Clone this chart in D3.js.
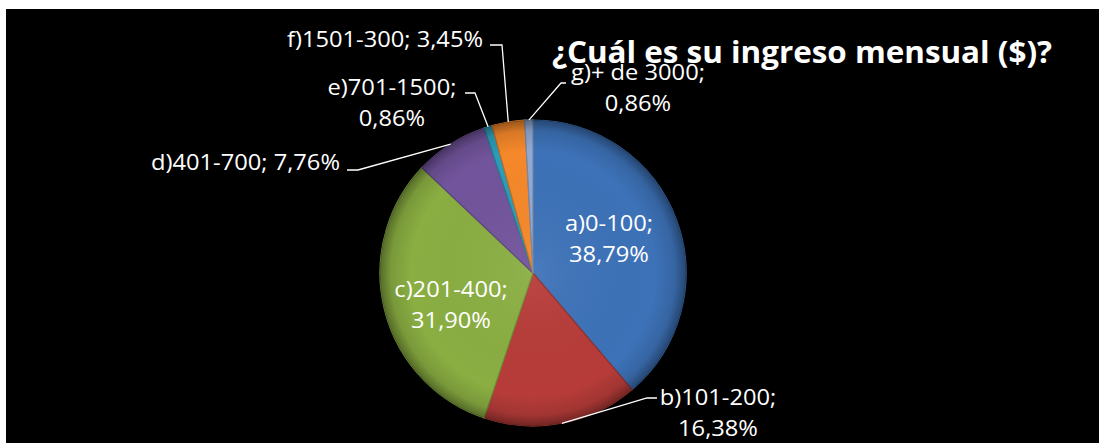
<!DOCTYPE html>
<html><head><meta charset="utf-8">
<script src="https://cdn.jsdelivr.net/npm/d3@7"></script>
<style>html,body{margin:0;padding:0;background:#fff;} svg{display:block}</style>
</head><body>
<svg id="c" width="1099" height="443"></svg>
<script>
// ---- data ----
const categories = ["a)0-100", "b)101-200", "c)201-400", "d)401-700", "e)701-1500", "f)1501-300", "g)+ de 3000"];
const values = [38.79, 16.38, 31.90, 7.76, 0.86, 3.45, 0.86];
const valueLabels = ["38,79%", "16,38%", "31,90%", "7,76%", "0,86%", "3,45%", "0,86%"];
const colors = ["#3d72b8", "#b73c39", "#8aae42", "#72549c", "#2c9db8", "#f5882a", "#91aad4"];
const title = "¿Cuál es su ingreso mensual ($)?";

// ---- layout (label placement, not data) ----
const labelLayout = [
  {lines: 2, x: 609, y: 231, anchor: "middle"},
  {lines: 2, x: 718, y: 405, anchor: "middle", elbow: [[647, 398], [657, 398]]},
  {lines: 2, x: 451, y: 297, anchor: "middle"},
  {lines: 1, x: 340, y: 170, anchor: "end", elbow: [[358, 170], [347, 170]]},
  {lines: 2, x: 392, y: 95, anchor: "middle", elbow: [[475, 93], [465, 93]]},
  {lines: 1, x: 483, y: 47, anchor: "end", elbow: [[502, 45], [490, 45]]},
  {lines: 2, x: 638, y: 80, anchor: "middle", elbow: [[561, 83], [566, 83]]}
];

const W = 1099, H = 443;
const svg = d3.select("#c");
svg.append("rect").attr("x", 6).attr("y", 9).attr("width", W - 6).attr("height", H - 9).attr("fill", "#000");

const cx = 533, cy = 273, R = 153;
const defs = svg.append("defs");
const sh = defs.append("radialGradient").attr("id", "shade")
  .attr("gradientUnits", "userSpaceOnUse").attr("cx", 0).attr("cy", 0).attr("r", R);
[[0, "#fff", 0.06], [0.8, "#000", 0], [0.93, "#000", 0.12], [1, "#000", 0.38]].forEach(s =>
  sh.append("stop").attr("offset", s[0]).attr("stop-color", s[1]).attr("stop-opacity", s[2]));

const pie = d3.pie().sort(null).value(d => d);
const arcs = pie(values);
const arc = d3.arc().innerRadius(0).outerRadius(R);
const edge = d3.arc().innerRadius(R).outerRadius(R);

const g = svg.append("g").attr("transform", `translate(${cx},${cy})`);
g.selectAll("path.s").data(arcs).join("path").attr("class", "s")
  .attr("d", arc).attr("fill", (d, i) => colors[i])
  .attr("stroke", (d, i) => d3.color(colors[i]).darker(0.6)).attr("stroke-width", 1.2);
g.selectAll("path.o").data(arcs).join("path").attr("class", "o")
  .attr("d", arc).attr("fill", "url(#shade)");

// leader lines
arcs.forEach((d, i) => {
  const L = labelLayout[i];
  if (!L.elbow) return;
  const p = edge.centroid(d);
  const pts = [[cx + p[0], cy + p[1]], ...L.elbow];
  svg.append("path").attr("d", d3.line()(pts)).attr("fill", "none")
    .attr("stroke", "#fff").attr("stroke-width", 1.3);
});

// labels
const font = "'Open Sans', 'Noto Sans', sans-serif";
const texts = [];
let refText = null;
arcs.forEach((d, i) => {
  const L = labelLayout[i];
  const lines = L.lines === 2 ? [categories[i] + ";", valueLabels[i]] : [categories[i] + "; " + valueLabels[i]];
  lines.forEach((s, j) => {
    const t = svg.append("text").attr("x", L.x).attr("y", L.y + j * 31)
      .attr("text-anchor", L.anchor).attr("fill", "#fff")
      .attr("font-family", font).attr("font-size", 22).text(s);
    texts.push(t);
    if (i === 5) refText = t;
  });
});
// condense to Calibri-like width
const k = 196 / refText.node().getComputedTextLength();
texts.forEach(t => {
  const w = t.node().getComputedTextLength();
  t.attr("textLength", w * k).attr("lengthAdjust", "spacingAndGlyphs");
});

svg.append("text").attr("x", 552).attr("y", 63).attr("fill", "#fff")
  .attr("font-family", font).attr("font-weight", "bold").attr("font-size", 31)
  .attr("textLength", 500).attr("lengthAdjust", "spacingAndGlyphs").text(title);
</script>
</body></html>
